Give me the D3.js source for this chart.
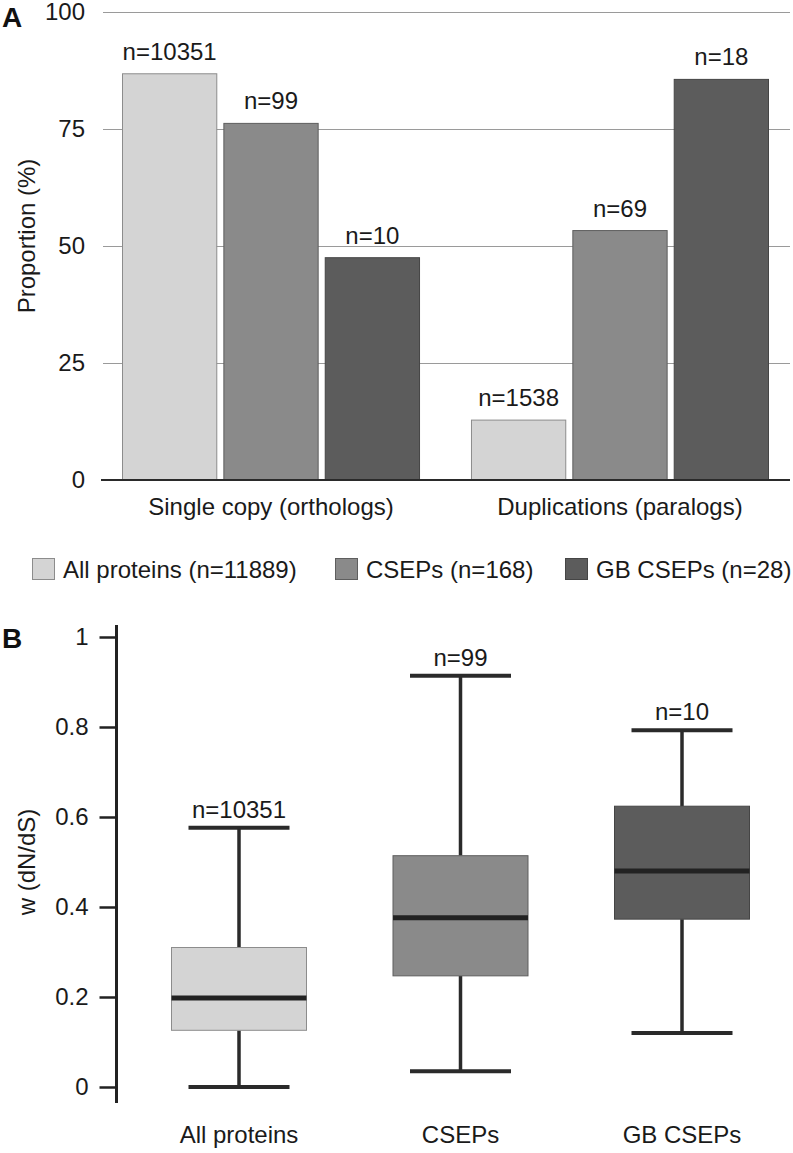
<!DOCTYPE html>
<html>
<head>
<meta charset="utf-8">
<script src="https://cdn.jsdelivr.net/npm/d3@7/dist/d3.min.js"></script>
<style>
  html, body { margin: 0; padding: 0; background: #fff; }
  svg { display: block; font-family: "Liberation Sans", Arial, Helvetica, sans-serif; }
</style>
</head>
<body>
<svg id="chart" width="793" height="1153"></svg>
<script>
// ---------- Panel A data ----------
const groupsA = ["Single copy (orthologs)", "Duplications (paralogs)"];
const seriesA = ["All proteins (n=11889)", "CSEPs (n=168)", "GB CSEPs (n=28)"];
const singleCopyValues = [86.8, 76.2, 47.5];
const duplicationValues = [12.8, 53.3, 85.6];
const singleCopyN = ["n=10351", "n=99", "n=10"];
const duplicationN = ["n=1538", "n=69", "n=18"];
const ticksA = [0, 25, 50, 75, 100];

// ---------- Panel B data ----------
const groupsB = ["All proteins", "CSEPs", "GB CSEPs"];
const whiskerLow = [0.0, 0.035, 0.12];
const q1 = [0.126, 0.247, 0.373];
const median = [0.198, 0.376, 0.48];
const q3 = [0.31, 0.514, 0.624];
const whiskerHigh = [0.576, 0.914, 0.793];
const nB = ["n=10351", "n=99", "n=10"];
const ticksB = [0, 0.2, 0.4, 0.6, 0.8, 1];

const fills = ["#d4d4d4", "#8a8a8a", "#5c5c5c"];
const strokes = ["#8c8c8c", "#5e5e5e", "#454545"];
const textColor = "#1a1a1a";

const svg = d3.select("#chart");

// =================== PANEL A ===================
const yA = d3.scaleLinear().domain([0, 100]).range([480, 12]);
const x0 = d3.scaleBand().domain(groupsA).range([122, 769]).paddingInner(0.146).paddingOuter(0);
const x1 = d3.scaleBand().domain(seriesA).range([0, x0.bandwidth()]).paddingInner(0.06);

const gA = svg.append("g");

// gridlines + tick labels
const axA = gA.append("g")
  .attr("transform", "translate(103,0)")
  .call(d3.axisLeft(yA).tickValues(ticksA).tickSize(-(790 - 103)).tickPadding(18));
axA.select(".domain").remove();
axA.selectAll(".tick line").attr("stroke", "#9a9a9a").attr("stroke-width", 1);
axA.selectAll(".tick text").attr("fill", textColor).attr("font-size", 24)
  .attr("font-family", "Liberation Sans, Arial, sans-serif");

const tableA = groupsA.map((g, gi) => ({
  group: g,
  values: (gi === 0 ? singleCopyValues : duplicationValues),
  ns: (gi === 0 ? singleCopyN : duplicationN)
}));

const grp = gA.selectAll("g.grp").data(tableA).join("g")
  .attr("class", "grp")
  .attr("transform", d => `translate(${x0(d.group)},0)`);

grp.selectAll("rect").data(d => d.values.map((v, i) => ({ v, i, s: seriesA[i] })))
  .join("rect")
  .attr("x", d => x1(d.s) + 0.5)
  .attr("y", d => yA(d.v))
  .attr("width", x1.bandwidth() - 1)
  .attr("height", d => yA(0) - yA(d.v))
  .attr("fill", d => fills[d.i])
  .attr("stroke", d => strokes[d.i])
  .attr("stroke-width", 1);

grp.selectAll("text.n").data(d => d.values.map((v, i) => ({ v, i, s: seriesA[i], n: d.ns[i] })))
  .join("text")
  .attr("class", "n")
  .attr("x", d => x1(d.s) + x1.bandwidth() / 2)
  .attr("y", d => yA(d.v) - 14)
  .attr("text-anchor", "middle")
  .attr("font-size", 24)
  .attr("fill", textColor)
  .text(d => d.n);

// baseline
gA.append("line")
  .attr("x1", 101).attr("x2", 790)
  .attr("y1", yA(0)).attr("y2", yA(0))
  .attr("stroke", "#2a2a2a").attr("stroke-width", 2);

// category labels
gA.selectAll("text.cat").data(groupsA).join("text")
  .attr("class", "cat")
  .attr("x", d => x0(d) + x0.bandwidth() / 2)
  .attr("y", 515)
  .attr("text-anchor", "middle")
  .attr("font-size", 24)
  .attr("fill", textColor)
  .text(d => d);

// y title
gA.append("text")
  .attr("transform", `translate(35,${(yA(0) + yA(100)) / 2 - 10}) rotate(-90)`)
  .attr("text-anchor", "middle")
  .attr("font-size", 24)
  .attr("fill", textColor)
  .text("Proportion (%)");

// panel letter
svg.append("text").attr("x", 2).attr("y", 27)
  .attr("font-size", 28).attr("font-weight", "bold").attr("fill", "#111").text("A");

// legend
const legendX = [32, 335, 565];
const leg = svg.append("g").selectAll("g").data(seriesA).join("g")
  .attr("transform", (d, i) => `translate(${legendX[i]},558)`);
leg.append("rect").attr("x", 0.5).attr("y", 0.5).attr("width", 22).attr("height", 21)
  .attr("fill", (d, i) => fills[i]).attr("stroke", (d, i) => strokes[i]);
leg.append("text").attr("x", 31).attr("y", 20)
  .attr("font-size", 24).attr("fill", textColor).text(d => d);

// =================== PANEL B ===================
const yB = d3.scaleLinear().domain([0, 1]).range([1087, 637]);
const xB = d3.scalePoint().domain(groupsB).range([239, 682]);
const boxW = 135, capW = 101;

const gB = svg.append("g");
const axB = gB.append("g")
  .attr("transform", "translate(116.5,0)")
  .call(d3.axisLeft(yB).tickValues(ticksB).tickFormat(d3.format("~g")).tickSize(17).tickPadding(11));
axB.select(".domain").remove();
axB.selectAll(".tick line").attr("stroke", "#222").attr("stroke-width", 2.5);
axB.selectAll(".tick text").attr("fill", textColor).attr("font-size", 24)
  .attr("font-family", "Liberation Sans, Arial, sans-serif");

gB.append("line")
  .attr("x1", 116.5).attr("x2", 116.5)
  .attr("y1", yB(1) - 12).attr("y2", yB(0) + 16)
  .attr("stroke", "#222").attr("stroke-width", 3);

const tableB = groupsB.map((g, i) => ({
  g, i, lo: whiskerLow[i], q1: q1[i], med: median[i], q3: q3[i], hi: whiskerHigh[i], n: nB[i]
}));

const box = gB.selectAll("g.box").data(tableB).join("g").attr("class", "box")
  .attr("transform", d => `translate(${xB(d.g)},0)`);

// whiskers
box.append("line").attr("x1", 0).attr("x2", 0)
  .attr("y1", d => yB(d.hi)).attr("y2", d => yB(d.q3))
  .attr("stroke", "#2a2a2a").attr("stroke-width", 3.5);
box.append("line").attr("x1", 0).attr("x2", 0)
  .attr("y1", d => yB(d.q1)).attr("y2", d => yB(d.lo))
  .attr("stroke", "#2a2a2a").attr("stroke-width", 3.5);
box.append("line").attr("x1", -capW / 2).attr("x2", capW / 2)
  .attr("y1", d => yB(d.hi)).attr("y2", d => yB(d.hi))
  .attr("stroke", "#2a2a2a").attr("stroke-width", 4);
box.append("line").attr("x1", -capW / 2).attr("x2", capW / 2)
  .attr("y1", d => yB(d.lo)).attr("y2", d => yB(d.lo))
  .attr("stroke", "#2a2a2a").attr("stroke-width", 4);

// box
box.append("rect")
  .attr("x", -boxW / 2).attr("width", boxW)
  .attr("y", d => yB(d.q3)).attr("height", d => yB(d.q1) - yB(d.q3))
  .attr("fill", d => fills[d.i]).attr("stroke", d => strokes[d.i]).attr("stroke-width", 1);

// median
box.append("line").attr("x1", -boxW / 2).attr("x2", boxW / 2)
  .attr("y1", d => yB(d.med)).attr("y2", d => yB(d.med))
  .attr("stroke", "#222").attr("stroke-width", 5);

// n labels
box.append("text").attr("x", 0).attr("y", d => yB(d.hi) - 10)
  .attr("text-anchor", "middle").attr("font-size", 24).attr("fill", textColor)
  .text(d => d.n);

// x labels
gB.selectAll("text.cat").data(groupsB).join("text").attr("class", "cat")
  .attr("x", d => xB(d)).attr("y", 1143)
  .attr("text-anchor", "middle").attr("font-size", 24).attr("fill", textColor)
  .text(d => d);

// y title
gB.append("text")
  .attr("transform", `translate(35,862) rotate(-90)`)
  .attr("text-anchor", "middle").attr("font-size", 24).attr("fill", textColor)
  .text("w (dN/dS)");

svg.append("text").attr("x", 2).attr("y", 648)
  .attr("font-size", 28).attr("font-weight", "bold").attr("fill", "#111").text("B");
</script>
</body>
</html>
